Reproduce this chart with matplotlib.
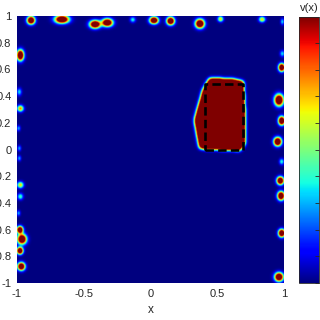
import numpy as np
import matplotlib
matplotlib.use("Agg")
import matplotlib.pyplot as plt
from matplotlib.path import Path

plt.rcParams["font.family"] = ["Liberation Sans", "DejaVu Sans"]

# small bright spots along the boundary (data coords)
spot_x = [-0.897, -0.665, -0.416, -0.324, -0.133, 0.026, 0.151, 0.371, 0.526, 0.838, 0.99,
          -0.977, -0.985, -0.977, -0.99, -0.985, -0.985, -0.977, -0.977, -0.99, -0.98, -0.965, -0.98, -0.97,
          0.99, 0.985, 0.965, 0.985, 0.955, 0.985, 0.975, 0.98, 0.985, 0.965]
spot_y = [0.97, 0.977, 0.94, 0.953, 0.975, 0.97, 0.965, 0.945, 0.98, 0.977, 0.96,
          0.708, 0.433, 0.308, 0.159, 0.009, -0.066, -0.266, -0.353, -0.478, -0.603, -0.673, -0.76, -0.878,
          0.72, 0.616, 0.371, 0.216, 0.059, -0.091, -0.234, -0.348, -0.628, -0.957]
spot_amp = [1.7, 1.7, 1.7, 1.7, 0.4, 1.7, 1.7, 1.7, 0.7, 0.7, 0.35,
            1.7, 0.35, 0.8, 0.3, 0.3, 0.3, 0.7, 0.45, 0.3, 1.7, 1.7, 1.7, 1.7,
            0.35, 1.7, 1.7, 1.7, 1.7, 0.4, 1.7, 1.7, 1.7, 1.7]
spot_sx = [0.019, 0.034, 0.026, 0.026, 0.014, 0.021, 0.019, 0.022, 0.014, 0.016, 0.009,
           0.017, 0.012, 0.016, 0.009, 0.009, 0.009, 0.016, 0.014, 0.009, 0.015, 0.022, 0.015, 0.018,
           0.012, 0.015, 0.022, 0.016, 0.019, 0.012, 0.017, 0.017, 0.016, 0.021]
spot_sy = [0.019, 0.019, 0.019, 0.019, 0.014, 0.017, 0.019, 0.022, 0.014, 0.014, 0.016,
           0.026, 0.019, 0.016, 0.014, 0.014, 0.014, 0.016, 0.016, 0.014, 0.017, 0.024, 0.017, 0.019,
           0.016, 0.019, 0.028, 0.021, 0.021, 0.016, 0.019, 0.021, 0.019, 0.021]

# large inclusion outline and the dashed true support
blob_x = [0.446, 0.62, 0.695, 0.705, 0.708, 0.67, 0.371, 0.333, 0.396]
blob_y = [0.533, 0.525, 0.508, 0.3, 0.046, -0.004, 0.009, 0.221, 0.446]
rect_x = [0.41, 0.695, 0.695, 0.41, 0.41]
rect_y = [0.0, 0.0, 0.49, 0.49, 0.0]

n = 400
g = np.linspace(-1, 1, n)
X, Y = np.meshgrid(g, g)

field = np.zeros_like(X)
for sx0, sy0, a, wx, wy in zip(spot_x, spot_y, spot_amp, spot_sx, spot_sy):
    field += a * np.exp(-((X - sx0) ** 2 / (2 * wx ** 2) + (Y - sy0) ** 2 / (2 * wy ** 2)))

inside = Path(np.column_stack([blob_x, blob_y])).contains_points(
    np.column_stack([X.ravel(), Y.ravel()])).reshape(X.shape).astype(float)
h = g[1] - g[0]
k = np.arange(-20, 21) * h
kern = np.exp(-k ** 2 / (2 * 0.014 ** 2))
kern /= kern.sum()
blur = np.apply_along_axis(lambda r: np.convolve(r, kern, mode="same"), 1, inside)
blur = np.apply_along_axis(lambda c: np.convolve(c, kern, mode="same"), 0, blur)
field += 1.8 * blur
field = np.clip(field, 0, 1)

fig = plt.figure(figsize=(3.2, 3.2), dpi=100)
ax = fig.add_axes([17 / 320, 37 / 320, 267 / 320, 267 / 320])
im = ax.imshow(field, extent=[-1, 1, -1, 1], origin="lower", cmap="jet",
               vmin=0, vmax=1, interpolation="bilinear", aspect="auto")
ax.plot(rect_x, rect_y, color="black", lw=1.9, linestyle=(0, (3.2, 1.6)))
ax.set_xlim(-1, 1)
ax.set_ylim(-1, 1)
ax.set_xticks([-1, -0.5, 0, 0.5, 1])
ax.set_xticklabels(["-1", "-0.5", "0", "0.5", "1"])
ax.set_yticks(np.round(np.arange(-1, 1.01, 0.2), 1))
ax.set_yticklabels(["-1", "-0.8", "-0.6", "-0.4", "-0.2", "0", "0.2", "0.4", "0.6", "0.8", "1"])
ax.tick_params(length=0, labelsize=8, colors="#262626", pad=4)
for s in ax.spines.values():
    s.set_visible(False)
ax.set_xlabel("x", fontsize=8.5, color="#262626", labelpad=4)

cax = fig.add_axes([298.5 / 320, 37 / 320, 20.5 / 320, 266.5 / 320])
cb = fig.colorbar(im, cax=cax)
cb.set_ticks(np.linspace(0, 1, 11))
cax.tick_params(direction="in", length=3, width=0.6, color="#262626", labelright=False)
cb.outline.set_linewidth(0.6)
cb.outline.set_edgecolor("#262626")
fig.text(309 / 320, 1 - 8 / 320, "v(x)", ha="center", va="center", fontsize=8, color="#262626")

fig.savefig("out.png", dpi=100)
